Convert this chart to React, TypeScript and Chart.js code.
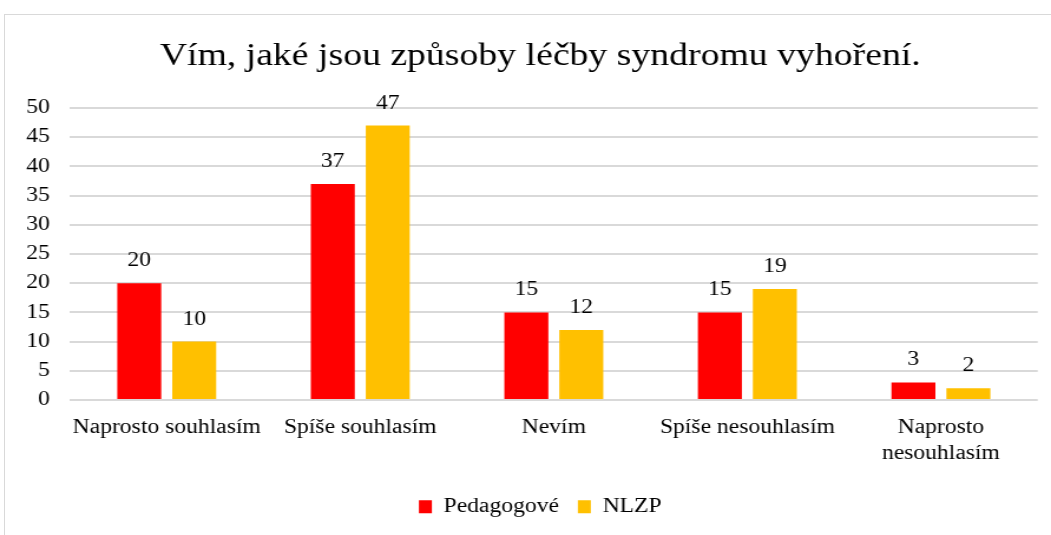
import React, { useEffect, useRef } from "react";
import { Chart, registerables } from "chart.js";

Chart.register(...registerables);

const TITLE = "Vím, jaké jsou způsoby léčby syndromu vyhoření.";
const categories: (string | string[])[] = [
  "Naprosto souhlasím",
  "Spíše souhlasím",
  "Nevím",
  "Spíše nesouhlasím",
  ["Naprosto", "nesouhlasím"],
];
const pedagogove = [20, 37, 15, 15, 3];
const nlzp = [10, 47, 12, 19, 2];
const yTicksMin = 0;
const yTicksMax = 50;
const yTicksStep = 5;

const FONT = "'Liberation Serif', 'Times New Roman', serif";
const SX = 1051 / 891;
const W = 916;
const H = 535;

const dataLabels = {
  id: "dataLabels",
  afterDatasetsDraw(chart: any) {
    const ctx = chart.ctx;
    ctx.save();
    ctx.font = `20px ${FONT}`;
    ctx.fillStyle = "#000";
    ctx.textAlign = "center";
    ctx.textBaseline = "alphabetic";
    chart.data.datasets.forEach((ds: any, i: number) => {
      const meta = chart.getDatasetMeta(i);
      meta.data.forEach((bar: any, j: number) => {
        ctx.fillText(String(ds.data[j]), bar.x, bar.y - 17);
      });
    });
    ctx.restore();
  },
};

const titlePlugin = {
  id: "titleText",
  afterDraw(chart: any) {
    const ctx = chart.ctx;
    ctx.save();
    ctx.font = `32px ${FONT}`;
    ctx.fillStyle = "#000";
    ctx.textAlign = "center";
    ctx.textBaseline = "alphabetic";
    ctx.fillText(TITLE, chart.width / 2, 64.5);
    ctx.restore();
  },
};

export default function App() {
  const ref = useRef<HTMLCanvasElement>(null);
  useEffect(() => {
    if (!ref.current) return;
    const chart = new Chart(ref.current, {
      type: "bar",
      data: {
        labels: categories,
        datasets: [
          { label: "Pedagogové", data: pedagogove, backgroundColor: "#FF0000", categoryPercentage: 0.568, barPercentage: 0.8 },
          { label: "NLZP", data: nlzp, backgroundColor: "#FFC000", categoryPercentage: 0.568, barPercentage: 0.8 },
        ],
      },
      options: {
        animation: false,
        responsive: false,
        devicePixelRatio: 1,
        layout: { padding: { left: 0, right: 0, top: 108, bottom: 8.3 } },
        plugins: {
          title: { display: false },
          legend: {
            display: true,
            position: "bottom",
            labels: {
              color: "#000",
              font: { family: FONT, size: 20 },
              boxWidth: 11,
              boxHeight: 13,
              padding: 16,
            },
          },
          tooltip: { enabled: false },
        },
        scales: {
          x: {
            grid: { display: false, drawTicks: false },
            border: { display: false },
            ticks: { color: "#000", font: { family: FONT, size: 20, lineHeight: 1.3 }, padding: 15, maxRotation: 0, autoSkip: false },
            afterFit(scale: any) {
              scale.height = 80.7;
            },
          },
          y: {
            min: yTicksMin,
            max: yTicksMax,
            ticks: { stepSize: yTicksStep, color: "#000", font: { family: FONT, size: 20 }, padding: 17 },
            grid: { color: "#d9d9d9", lineWidth: 2, drawTicks: false },
            border: { display: false },
            afterFit(scale: any) {
              scale.width = 59.3;
            },
          },
          spacer: {
            type: "linear",
            position: "right",
            display: true,
            grid: { display: false, drawTicks: false },
            border: { display: false },
            ticks: { display: false },
            afterFit(scale: any) {
              scale.width = 36.3;
            },
          },
        },
      },
      plugins: [dataLabels, titlePlugin],
    });
    return () => chart.destroy();
  }, []);

  return (
    <div style={{ position: "fixed", left: 0, top: 0, width: 1051, height: 535, overflow: "hidden", background: "#fff" }}>
      <div
        style={{
          position: "absolute",
          left: 4,
          top: 14,
          width: 1100,
          height: 600,
          border: "1.5px solid #d9d9d9",
          boxSizing: "border-box",
        }}
      />
      <div style={{ position: "absolute", left: 0, top: 0, width: W, height: H, transform: `scaleX(${SX})`, transformOrigin: "0 0" }}>
        <canvas ref={ref} width={W} height={H} style={{ display: "block", width: W, height: H }} />
      </div>
    </div>
  );
}
